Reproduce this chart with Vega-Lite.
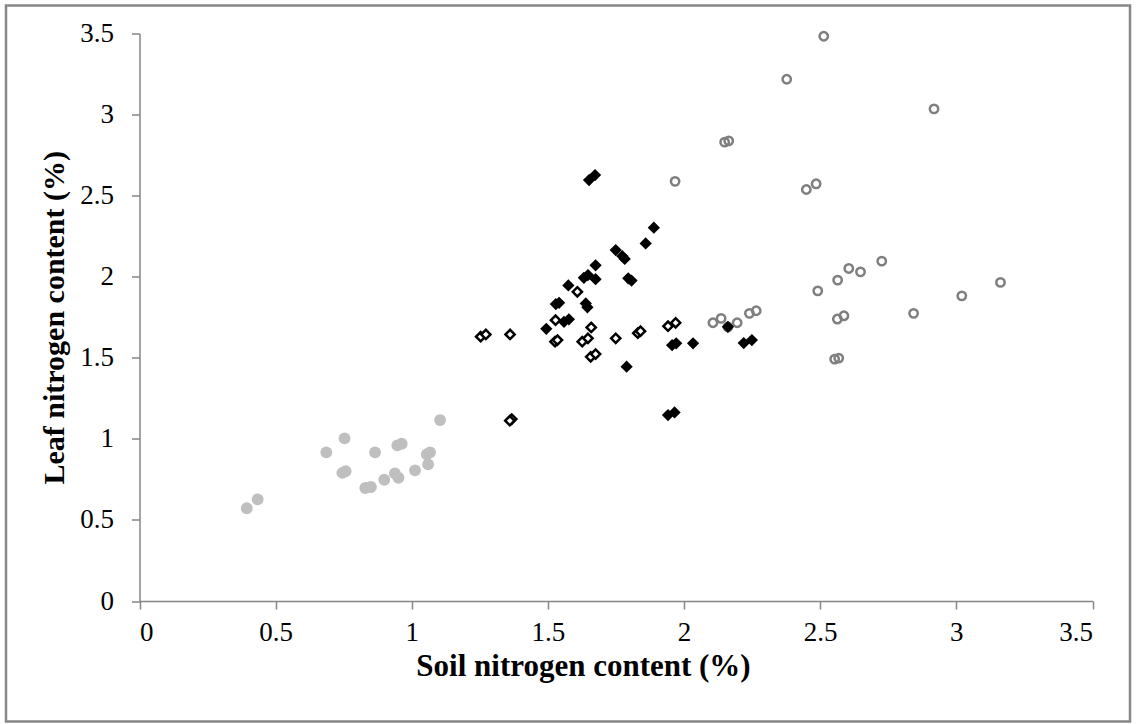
{
  "$schema": "https://vega.github.io/schema/vega-lite/v6.json",
  "width": 1124,
  "height": 716,
  "autosize": {"type": "none"},
  "padding": {"left": 6, "top": 5.5, "right": 6, "bottom": 2.5},
  "background": "white",
  "config": {
    "view": {"stroke": "#878787", "strokeWidth": 2.5},
    "font": "Liberation Serif",
    "axis": {
      "grid": false,
      "domainColor": "#868686",
      "domainWidth": 1.5,
      "tickColor": "#868686",
      "tickWidth": 1.5,
      "tickSize": 8,
      "labelFont": "Liberation Serif",
      "labelFontSize": 27,
      "labelColor": "#000000",
      "titleFont": "Liberation Serif",
      "titleFontSize": 30,
      "titleFontWeight": "bold",
      "titleColor": "#000000"
    }
  },
  "data": {
    "values": [
      {"soil": 0.394, "leaf": 0.572, "group": "A"},
      {"soil": 0.434, "leaf": 0.627, "group": "A"},
      {"soil": 0.686, "leaf": 0.917, "group": "A"},
      {"soil": 0.753, "leaf": 1.003, "group": "A"},
      {"soil": 0.745, "leaf": 0.79, "group": "A"},
      {"soil": 0.757, "leaf": 0.8, "group": "A"},
      {"soil": 0.865, "leaf": 0.917, "group": "A"},
      {"soil": 0.947, "leaf": 0.96, "group": "A"},
      {"soil": 0.963, "leaf": 0.97, "group": "A"},
      {"soil": 0.829, "leaf": 0.697, "group": "A"},
      {"soil": 0.85, "leaf": 0.703, "group": "A"},
      {"soil": 0.899, "leaf": 0.748, "group": "A"},
      {"soil": 0.938, "leaf": 0.787, "group": "A"},
      {"soil": 0.951, "leaf": 0.76, "group": "A"},
      {"soil": 1.012, "leaf": 0.806, "group": "A"},
      {"soil": 1.06, "leaf": 0.843, "group": "A"},
      {"soil": 1.055, "leaf": 0.904, "group": "A"},
      {"soil": 1.067, "leaf": 0.917, "group": "A"},
      {"soil": 1.104, "leaf": 1.116, "group": "A"},
      {"soil": 2.513, "leaf": 3.483, "group": "B"},
      {"soil": 2.377, "leaf": 3.218, "group": "B"},
      {"soil": 2.918, "leaf": 3.035, "group": "B"},
      {"soil": 2.149, "leaf": 2.83, "group": "B"},
      {"soil": 2.164, "leaf": 2.838, "group": "B"},
      {"soil": 2.449, "leaf": 2.538, "group": "B"},
      {"soil": 2.485, "leaf": 2.573, "group": "B"},
      {"soil": 1.967, "leaf": 2.588, "group": "B"},
      {"soil": 2.106, "leaf": 1.716, "group": "B"},
      {"soil": 2.136, "leaf": 1.743, "group": "B"},
      {"soil": 2.161, "leaf": 1.69, "group": "B"},
      {"soil": 2.195, "leaf": 1.716, "group": "B"},
      {"soil": 2.24, "leaf": 1.774, "group": "B"},
      {"soil": 2.265, "leaf": 1.79, "group": "B"},
      {"soil": 2.491, "leaf": 1.913, "group": "B"},
      {"soil": 2.564, "leaf": 1.979, "group": "B"},
      {"soil": 2.605, "leaf": 2.051, "group": "B"},
      {"soil": 2.648, "leaf": 2.03, "group": "B"},
      {"soil": 2.726, "leaf": 2.096, "group": "B"},
      {"soil": 2.563, "leaf": 1.739, "group": "B"},
      {"soil": 2.587, "leaf": 1.759, "group": "B"},
      {"soil": 2.843, "leaf": 1.774, "group": "B"},
      {"soil": 3.02, "leaf": 1.882, "group": "B"},
      {"soil": 3.162, "leaf": 1.965, "group": "B"},
      {"soil": 2.553, "leaf": 1.492, "group": "B"},
      {"soil": 2.568, "leaf": 1.498, "group": "B"},
      {"soil": 1.651, "leaf": 2.596, "group": "C"},
      {"soil": 1.673, "leaf": 2.627, "group": "C"},
      {"soil": 1.889, "leaf": 2.302, "group": "C"},
      {"soil": 1.859, "leaf": 2.205, "group": "C"},
      {"soil": 1.749, "leaf": 2.164, "group": "C"},
      {"soil": 1.773, "leaf": 2.127, "group": "C"},
      {"soil": 1.782, "leaf": 2.11, "group": "C"},
      {"soil": 1.795, "leaf": 1.99, "group": "C"},
      {"soil": 1.807, "leaf": 1.976, "group": "C"},
      {"soil": 1.675, "leaf": 2.07, "group": "C"},
      {"soil": 1.632, "leaf": 1.993, "group": "C"},
      {"soil": 1.647, "leaf": 2.01, "group": "C"},
      {"soil": 1.675, "leaf": 1.985, "group": "C"},
      {"soil": 1.575, "leaf": 1.946, "group": "C"},
      {"soil": 1.541, "leaf": 1.839, "group": "C"},
      {"soil": 1.529, "leaf": 1.831, "group": "C"},
      {"soil": 1.639, "leaf": 1.835, "group": "C"},
      {"soil": 1.645, "leaf": 1.811, "group": "C"},
      {"soil": 1.494, "leaf": 1.679, "group": "C"},
      {"soil": 1.559, "leaf": 1.722, "group": "C"},
      {"soil": 1.577, "leaf": 1.737, "group": "C"},
      {"soil": 1.956, "leaf": 1.578, "group": "C"},
      {"soil": 1.971, "leaf": 1.589, "group": "C"},
      {"soil": 2.033, "leaf": 1.589, "group": "C"},
      {"soil": 1.789, "leaf": 1.445, "group": "C"},
      {"soil": 1.941, "leaf": 1.147, "group": "C"},
      {"soil": 1.965, "leaf": 1.163, "group": "C"},
      {"soil": 2.219, "leaf": 1.591, "group": "C"},
      {"soil": 2.249, "leaf": 1.609, "group": "C"},
      {"soil": 2.161, "leaf": 1.691, "group": "C"},
      {"soil": 1.253, "leaf": 1.63, "group": "D"},
      {"soil": 1.272, "leaf": 1.644, "group": "D"},
      {"soil": 1.361, "leaf": 1.644, "group": "D"},
      {"soil": 1.367, "leaf": 1.122, "group": "D"},
      {"soil": 1.36, "leaf": 1.112, "group": "D"},
      {"soil": 1.526, "leaf": 1.599, "group": "D"},
      {"soil": 1.535, "leaf": 1.609, "group": "D"},
      {"soil": 1.528, "leaf": 1.732, "group": "D"},
      {"soil": 1.608, "leaf": 1.907, "group": "D"},
      {"soil": 1.659, "leaf": 1.687, "group": "D"},
      {"soil": 1.626, "leaf": 1.599, "group": "D"},
      {"soil": 1.647, "leaf": 1.62, "group": "D"},
      {"soil": 1.657, "leaf": 1.506, "group": "D"},
      {"soil": 1.675, "leaf": 1.523, "group": "D"},
      {"soil": 1.749, "leaf": 1.62, "group": "D"},
      {"soil": 1.83, "leaf": 1.652, "group": "D"},
      {"soil": 1.84, "leaf": 1.664, "group": "D"},
      {"soil": 1.941, "leaf": 1.695, "group": "D"},
      {"soil": 1.969, "leaf": 1.716, "group": "D"}
    ]
  },
  "encoding": {
    "x": {
      "field": "soil",
      "type": "quantitative",
      "scale": {"domain": [0, 3.5], "range": [133.5, 1086.5], "nice": false, "zero": false},
      "axis": {
        "orient": "bottom",
        "offset": -120.5,
        "values": [0, 0.5, 1, 1.5, 2, 2.5, 3, 3.5],
        "format": "~g",
        "labelPadding": 10,
        "title": "Soil nitrogen content (%)",
        "titleFontSize": 31,
        "titlePadding": 6,
        "titleX": 577
      }
    },
    "y": {
      "field": "leaf",
      "type": "quantitative",
      "scale": {"domain": [0, 3.5], "range": [595.5, 28], "nice": false, "zero": false},
      "axis": {
        "orient": "left",
        "offset": -133.5,
        "values": [0, 0.5, 1, 1.5, 2, 2.5, 3, 3.5],
        "format": "~g",
        "labelPadding": 18,
        "title": "Leaf nitrogen content (%)",
        "titlePadding": 10
      }
    }
  },
  "layer": [
    {
      "transform": [{"filter": "datum.group === 'A'"}],
      "mark": {"type": "point", "shape": "circle", "filled": true, "fill": "#bfbfbf", "fillOpacity": 1, "strokeWidth": 0, "size": 140}
    },
    {
      "transform": [{"filter": "datum.group === 'B'"}],
      "mark": {"type": "point", "shape": "circle", "filled": false, "stroke": "#7f7f7f", "fill": "white", "fillOpacity": 0, "strokeOpacity": 1, "strokeWidth": 2.5, "size": 70}
    },
    {
      "transform": [{"filter": "datum.group === 'C'"}],
      "mark": {"type": "point", "shape": "diamond", "filled": true, "fill": "#000000", "fillOpacity": 1, "strokeWidth": 0, "size": 150}
    },
    {
      "transform": [{"filter": "datum.group === 'D'"}],
      "mark": {"type": "point", "shape": "diamond", "filled": false, "stroke": "#000000", "fill": "white", "fillOpacity": 1, "strokeOpacity": 1, "strokeWidth": 2.5, "size": 85}
    }
  ]
}
